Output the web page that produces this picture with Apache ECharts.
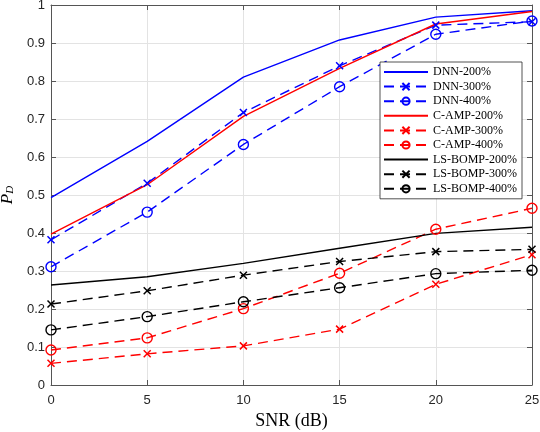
<!DOCTYPE html>
<html>
<head>
<meta charset="utf-8">
<script src="https://cdn.jsdelivr.net/npm/echarts@6/dist/echarts.min.js"></script>
<style>html,body{margin:0;padding:0;background:#fff}#c{width:540px;height:432px}</style>
</head>
<body>
<div id="c"></div>
<script>
var snr = [0, 5, 10, 15, 20, 25];
var xTicks = [0, 5, 10, 15, 20, 25];
var yTicks = [0, 0.1, 0.2, 0.3, 0.4, 0.5, 0.6, 0.7, 0.8, 0.9, 1];

var dnn200   = [0.493, 0.641, 0.810, 0.908, 0.968, 0.985];
var dnn300   = [0.382, 0.531, 0.717, 0.840, 0.947, 0.956];
var dnn400   = [0.311, 0.455, 0.633, 0.785, 0.923, 0.958];
var camp200  = [0.397, 0.527, 0.707, 0.833, 0.950, 0.983];
var camp300  = [0.057, 0.082, 0.103, 0.147, 0.265, 0.343];
var camp400  = [0.092, 0.124, 0.201, 0.294, 0.410, 0.465];
var bomp200  = [0.263, 0.285, 0.320, 0.360, 0.399, 0.415];
var bomp300  = [0.213, 0.248, 0.289, 0.325, 0.351, 0.357];
var bomp400  = [0.145, 0.180, 0.219, 0.256, 0.293, 0.302];

var names = ['DNN-200%','DNN-300%','DNN-400%','C-AMP-200%','C-AMP-300%','C-AMP-400%','LS-BOMP-200%','LS-BOMP-300%','LS-BOMP-400%'];
var values = [dnn200, dnn300, dnn400, camp200, camp300, camp400, bomp200, bomp300, bomp400];
var colors = ['#0000ff','#0000ff','#0000ff','#ff0000','#ff0000','#ff0000','#000000','#000000','#000000'];
var kinds = ['solid','cross','circle','solid','cross','circle','solid','cross','circle'];

var CROSS = 'path://M0,0L10,10M10,0L0,10';

var series = names.map(function (n, i) {
  var c = colors[i], k = kinds[i];
  var s = {
    name: n, type: 'line', xAxisIndex: 0, yAxisIndex: 0,
    data: snr.map(function (x, j) { return [x, values[i][j]]; }),
    color: c,
    lineStyle: { color: c, width: 1.4, type: k === 'solid' ? 'solid' : [10, 6] },
    animation: false, z: 3
  };
  if (k === 'solid') {
    s.symbol = 'none'; s.showSymbol = false;
  } else if (k === 'cross') {
    s.symbol = CROSS; s.symbolSize = 7; s.showSymbol = true;
    s.itemStyle = { color: c, borderColor: c, borderWidth: 1.5 };
  } else {
    s.symbol = 'circle'; s.symbolSize = 10; s.showSymbol = true;
    s.itemStyle = { color: 'rgba(255,255,255,0)', borderColor: c, borderWidth: 1.4 };
  }
  return s;
});

var legendData = names.map(function (n, i) {
  if (kinds[i] === 'solid') {
    return { name: n, itemStyle: { color: 'rgba(0,0,0,0)', borderWidth: 0, opacity: 0 } };
  }
  return { name: n };
});

var axisColor = '#555555';
var labelFont = { fontFamily: 'Liberation Sans', fontSize: 13, color: '#262626' };

var chart = echarts.init(document.getElementById('c'), null, { renderer: 'canvas' });
chart.setOption({
  backgroundColor: '#ffffff',
  animation: false,
  grid: { left: 51, right: 8, top: 5, bottom: 47, containLabel: false, outerBoundsMode: 'none' },
  legend: {
    data: legendData, orient: 'vertical', left: 380, top: 62,
    backgroundColor: '#ffffff', borderColor: '#262626', borderWidth: 0.8,
    padding: [3, 5, 3, 3], itemWidth: 44, itemHeight: 9, itemGap: 0.6,
    textStyle: { fontFamily: 'Liberation Serif', fontSize: 12, color: '#000', lineHeight: 14 },
    selectedMode: false
  },
  xAxis: [{
    type: 'value', min: 0, max: 25, interval: 5,
    name: 'SNR (dB)', nameLocation: 'middle', nameGap: 23,
    nameTextStyle: { fontFamily: 'Liberation Serif', fontSize: 18, color: '#000' },
    axisLine: { show: true, onZero: false, lineStyle: { color: axisColor, width: 1 } },
    axisTick: { show: true, inside: true, length: 5, lineStyle: { color: axisColor } },
    axisLabel: Object.assign({ margin: 9 }, labelFont),
    splitLine: { show: true, lineStyle: { color: '#e3e3e3', width: 1 } }
  }, {
    type: 'value', position: 'top', min: 0, max: 25, interval: 5,
    axisLine: { show: true, onZero: false, lineStyle: { color: axisColor, width: 1 } },
    axisTick: { show: true, inside: true, length: 5, lineStyle: { color: axisColor } },
    axisLabel: { show: false }, splitLine: { show: false }
  }],
  yAxis: [{
    type: 'value', min: 0, max: 1, interval: 0.1,
    name: '{p|P}{d|D}', nameLocation: 'middle', nameGap: 30,
    nameTextStyle: {
      rich: {
        p: { fontFamily: 'Liberation Serif', fontStyle: 'italic', fontSize: 17, color: '#000', verticalAlign: 'bottom', lineHeight: 20 },
        d: { fontFamily: 'Liberation Serif', fontStyle: 'italic', fontSize: 11, color: '#000', verticalAlign: 'bottom', lineHeight: 9 }
      }
    },
    axisLine: { show: true, onZero: false, lineStyle: { color: axisColor, width: 1 } },
    axisTick: { show: true, inside: true, length: 5, lineStyle: { color: axisColor } },
    axisLabel: Object.assign({ margin: 6, formatter: function (v) { return v === 0 ? '0' : (v === 1 ? '1' : v.toFixed(1)); } }, labelFont),
    splitLine: { show: true, lineStyle: { color: '#e3e3e3', width: 1 } }
  }, {
    type: 'value', position: 'right', min: 0, max: 1, interval: 0.1,
    axisLine: { show: true, onZero: false, lineStyle: { color: axisColor, width: 1 } },
    axisTick: { show: true, inside: true, length: 5, lineStyle: { color: axisColor } },
    axisLabel: { show: false }, splitLine: { show: false }
  }],
  series: series
});
</script>
</body>
</html>
